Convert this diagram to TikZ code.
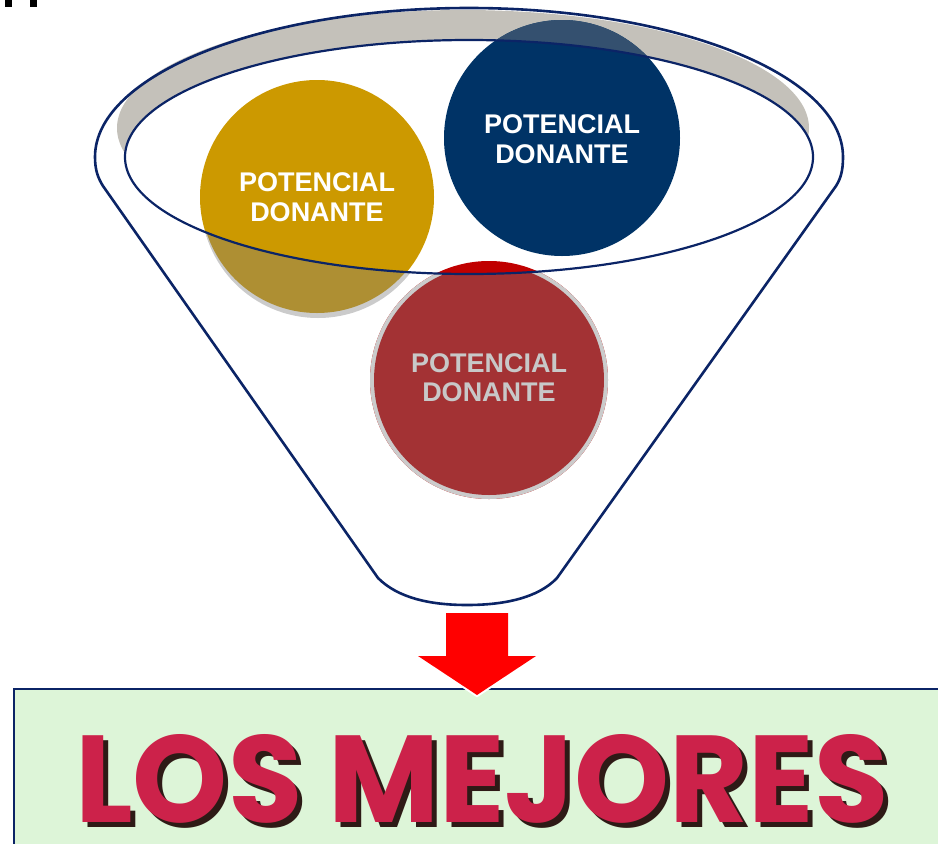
\documentclass[tikz,border=0pt]{standalone}
\usepackage{fontspec}
\setmainfont{Liberation Sans}
\newfontfamily\comicfont{Poppins}
\definecolor{navy}{HTML}{0B2466}
\definecolor{bandgray}{HTML}{C4C1BA}
\definecolor{goldc}{HTML}{CC9900}
\definecolor{golddk}{HTML}{AE8F33}
\definecolor{bluec}{HTML}{003366}
\definecolor{bluedk}{HTML}{34506F}
\definecolor{redc}{HTML}{A33234}
\definecolor{redbr}{HTML}{C00000}
\definecolor{ringgray}{HTML}{CBCBCB}
\definecolor{boxgreen}{HTML}{DDF5D8}
\definecolor{letterred}{HTML}{CC224A}
\definecolor{lettershadow}{HTML}{2E1A16}
\definecolor{lbllight}{HTML}{C8C8C8}
\newcommand{\titletext}{\resizebox{813pt}{88pt}{\comicfont\bfseries LOS MEJORES}}
\begin{document}
\begin{tikzpicture}[x=1pt,y=-1pt,
  funnel/.style={draw=navy,line width=2.6pt,line join=round},
  rim/.style={draw=navy,line width=2.2pt},
  lbl/.style={font=\fontsize{27}{29}\selectfont\bfseries,anchor=base,inner sep=0pt}]
\useasboundingbox (0,0) rectangle (938,844);
\clip (0,0) rectangle (938,844);
% small marks at top left
\fill (5,0) rectangle (12,7);
\fill (30,0) rectangle (37,7);
% gray rim band
\begin{scope}
  \clip (463,128) ellipse [x radius=346, y radius=118];
  \fill[bandgray, even odd rule] (0,0) rectangle (938,844) (469,157) ellipse [x radius=344, y radius=117];
\end{scope}
% gold circle
\fill[goldc] (317,197) circle [radius=117];
\begin{scope}[even odd rule]
  \clip (0,0) rectangle (938,844) (469,157) ellipse [x radius=344, y radius=117];
  \fill[ringgray] (318,201) circle [radius=117];
  \fill[golddk] (317,197) circle [radius=116];
\end{scope}
% red circle
\fill[redbr] (489,380) circle [radius=119];
\begin{scope}[even odd rule]
  \clip (0,0) rectangle (938,844) (469,157) ellipse [x radius=344, y radius=117];
  \fill[ringgray] (489,380) circle [radius=119];
  \fill[redc] (489,380) circle [radius=115];
\end{scope}
% blue circle
\fill[bluec] (562,138) circle [radius=118];
\begin{scope}[even odd rule]
  \clip (0,0) rectangle (938,844) (469,157) ellipse [x radius=344, y radius=117];
  \fill[bluedk] (562,138) circle [radius=118];
\end{scope}
% labels
\node[lbl,text=white] (g1) at (317,191) {POTENCIAL};
\node[lbl,text=white] (g2) at (317,221) {DONANTE};
\node[lbl,text=white] (b1) at (562,133) {POTENCIAL};
\node[lbl,text=white] (b2) at (562,163) {DONANTE};
\node[lbl,text=lbllight] (r1) at (489,372) {POTENCIAL};
\node[lbl,text=lbllight] (r2) at (489,401) {DONANTE};
% funnel outline
\draw[funnel] (95,157) .. controls (95,170) and (98,178) .. (103,186) -- (378,578)
  .. controls (398,598) and (430,605) .. (467,605)
  .. controls (504,605) and (538,598) .. (557,578) -- (836,186)
  .. controls (841,178) and (843,170) .. (843,157)
  arc [start angle=0, end angle=-180, x radius=374, y radius=149];
\draw[rim] (469,157) ellipse [x radius=344, y radius=117];
% result box
\draw[navy, line width=2.4pt, fill=boxgreen] (14,689) rectangle (960,870);
% arrow
\draw[white, line width=4pt, line join=miter] (446,613) -- (508,613) -- (508,656) -- (536,656) -- (477,695) -- (418,656) -- (446,656) -- cycle;
\fill[red] (446,613) -- (508,613) -- (508,656) -- (536,656) -- (477,695) -- (418,656) -- (446,656) -- cycle;
% title with drop shadow
\node[inner sep=0pt, anchor=south west, text=letterred] (title) at (75,829)
  {\rlap{\raisebox{-5pt}{\hspace{5pt}\textcolor{lettershadow}{\titletext}}}\titletext};
\end{tikzpicture}
\end{document}
